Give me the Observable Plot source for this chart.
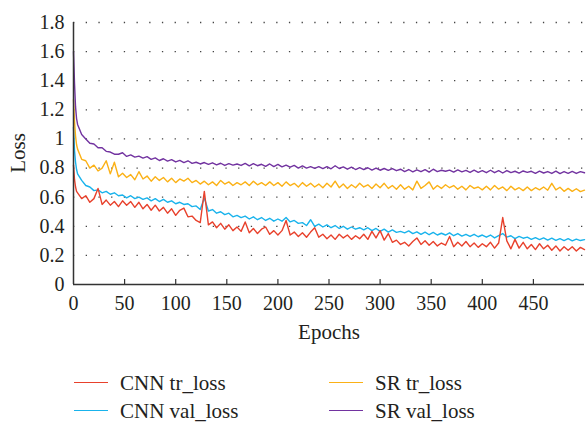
<!DOCTYPE html>
<html>
<head>
<meta charset="utf-8">
<script src="https://cdn.jsdelivr.net/npm/d3@7"></script>
<script src="https://cdn.jsdelivr.net/npm/@observablehq/plot@0.6"></script>
<style>
  html, body { margin: 0; padding: 0; background: #fff; }
  #wrap { position: relative; width: 586px; height: 422px; font-family: "Liberation Serif", "DejaVu Serif", serif; color: #231f20; }
  .sw { position: absolute; height: 0; border-top: 1.4px solid; width: 34px; }
  .lt { position: absolute; font-size: 21px; line-height: 22px; white-space: nowrap; }
  #ylab { position: absolute; left: 18px; top: 153px; font-size: 21px; line-height: 22px; white-space: nowrap;
          transform: translate(-50%, -50%) rotate(-90deg); }
</style>
</head>
<body>
<div id="wrap"></div>
<script>
// ---- data ----
const epochs = [
  0, 1, 2, 3,
  4, 8, 12, 16, 20, 24, 28, 32, 36, 40,
  44, 48, 52, 56, 60, 64, 68, 72, 76, 80,
  84, 88, 92, 96, 100, 104, 108, 112, 116, 120,
  124, 128, 132, 136, 140, 144, 148, 152, 156, 160,
  164, 168, 172, 176, 180, 184, 188, 192, 196, 200,
  204, 208, 212, 216, 220, 224, 228, 232, 236, 240,
  244, 248, 252, 256, 260, 264, 268, 272, 276, 280,
  284, 288, 292, 296, 300, 304, 308, 312, 316, 320,
  324, 328, 332, 336, 340, 344, 348, 352, 356, 360,
  364, 368, 372, 376, 380, 384, 388, 392, 396, 400,
  404, 408, 412, 416, 420, 424, 428, 432, 436, 440,
  444, 448, 452, 456, 460, 464, 468, 472, 476, 480,
  484, 488, 492, 496, 500
];
const cnnTrLoss = [
  0.82, 0.72, 0.67, 0.64,
  0.63, 0.59, 0.61, 0.565, 0.59, 0.66, 0.55, 0.58, 0.545, 0.57,
  0.535, 0.575, 0.545, 0.57, 0.53, 0.565, 0.52, 0.55, 0.51, 0.545,
  0.505, 0.53, 0.49, 0.52, 0.475, 0.51, 0.525, 0.465, 0.47, 0.44,
  0.425, 0.64, 0.41, 0.43, 0.39, 0.42, 0.38, 0.41, 0.37, 0.395,
  0.365, 0.43, 0.355, 0.385, 0.35, 0.38, 0.395, 0.345, 0.37, 0.34,
  0.37, 0.44, 0.34, 0.36, 0.33, 0.355, 0.325, 0.36, 0.39, 0.325,
  0.345, 0.315, 0.34, 0.31, 0.345, 0.32, 0.34, 0.31, 0.335, 0.315,
  0.345, 0.31, 0.365, 0.32, 0.37, 0.305, 0.35, 0.29, 0.305, 0.275,
  0.29, 0.265, 0.295, 0.32, 0.275, 0.30, 0.27, 0.295, 0.265, 0.285,
  0.27, 0.33, 0.26, 0.29, 0.265, 0.295, 0.26, 0.285, 0.255, 0.28,
  0.26, 0.29, 0.25, 0.285, 0.46, 0.30, 0.245, 0.31, 0.25, 0.29,
  0.245, 0.275, 0.24, 0.28, 0.245, 0.27, 0.235, 0.265, 0.23, 0.26,
  0.235, 0.26, 0.23, 0.255, 0.24
];
const cnnValLoss = [
  1.08, 0.92, 0.84, 0.79,
  0.76, 0.715, 0.68, 0.67, 0.645, 0.65, 0.63, 0.64, 0.62, 0.63,
  0.61, 0.615, 0.595, 0.61, 0.59, 0.60, 0.585, 0.595, 0.575, 0.59,
  0.57, 0.585, 0.565, 0.575, 0.555, 0.565, 0.55, 0.555, 0.535, 0.54,
  0.515, 0.595, 0.505, 0.515, 0.49, 0.50, 0.48, 0.49, 0.465, 0.475,
  0.46, 0.47, 0.45, 0.465, 0.445, 0.46, 0.44, 0.455, 0.435, 0.45,
  0.435, 0.46, 0.43, 0.44, 0.42, 0.425, 0.405, 0.445, 0.40, 0.415,
  0.395, 0.41, 0.39, 0.405, 0.385, 0.40, 0.38, 0.395, 0.38, 0.39,
  0.375, 0.39, 0.37, 0.385, 0.365, 0.38, 0.36, 0.375, 0.358, 0.365,
  0.355, 0.368, 0.35, 0.362, 0.345, 0.36, 0.342, 0.358, 0.34, 0.352,
  0.34, 0.355, 0.335, 0.35, 0.333, 0.345, 0.33, 0.345, 0.328, 0.34,
  0.325, 0.34, 0.32, 0.335, 0.35, 0.325, 0.335, 0.315, 0.33, 0.318,
  0.325, 0.31, 0.322, 0.308, 0.32, 0.305, 0.318, 0.303, 0.315, 0.302,
  0.315, 0.30, 0.312, 0.302, 0.308
];
const srTrLoss = [
  1.27, 1.12, 1.02, 0.96,
  0.93, 0.86, 0.85, 0.80, 0.82, 0.78, 0.80, 0.85, 0.76, 0.84,
  0.74, 0.765, 0.735, 0.755, 0.72, 0.775, 0.725, 0.745, 0.71, 0.74,
  0.715, 0.735, 0.705, 0.73, 0.70, 0.725, 0.71, 0.73, 0.70, 0.715,
  0.69, 0.71, 0.685, 0.705, 0.68, 0.715, 0.69, 0.705, 0.68, 0.70,
  0.685, 0.705, 0.68, 0.71, 0.685, 0.70, 0.68, 0.705, 0.68, 0.70,
  0.675, 0.705, 0.68, 0.695, 0.67, 0.70, 0.675, 0.695, 0.67, 0.69,
  0.665, 0.695, 0.67, 0.71, 0.665, 0.69, 0.66, 0.685, 0.665, 0.695,
  0.67, 0.685, 0.66, 0.69, 0.665, 0.695, 0.66, 0.68, 0.655, 0.685,
  0.655, 0.675, 0.65, 0.71, 0.66, 0.68, 0.705, 0.655, 0.68, 0.66,
  0.685, 0.665, 0.68, 0.655, 0.675, 0.65, 0.68, 0.66, 0.67, 0.65,
  0.675, 0.65, 0.68, 0.655, 0.67, 0.645, 0.675, 0.65, 0.665, 0.645,
  0.67, 0.645, 0.665, 0.65, 0.67, 0.648, 0.695, 0.65, 0.668, 0.64,
  0.66, 0.64, 0.658, 0.638, 0.648
];
const srValLoss = [
  1.60, 1.38, 1.22, 1.14,
  1.10, 1.03, 1.00, 0.97, 0.965, 0.94, 0.94, 0.915, 0.91, 0.895,
  0.895, 0.905, 0.88, 0.89, 0.875, 0.882, 0.868, 0.878, 0.86, 0.87,
  0.852, 0.864, 0.848, 0.858, 0.842, 0.853, 0.838, 0.85, 0.832, 0.84,
  0.828, 0.838, 0.825, 0.836, 0.822, 0.833, 0.818, 0.83, 0.82, 0.828,
  0.818, 0.832, 0.815, 0.83, 0.816, 0.826, 0.812, 0.828, 0.81, 0.825,
  0.808, 0.82, 0.806, 0.818, 0.80, 0.815, 0.80, 0.81, 0.798, 0.81,
  0.796, 0.81, 0.795, 0.816, 0.797, 0.808, 0.792, 0.806, 0.79, 0.803,
  0.79, 0.802, 0.786, 0.80, 0.785, 0.797, 0.784, 0.796, 0.782, 0.792,
  0.776, 0.79, 0.774, 0.788, 0.775, 0.789, 0.772, 0.792, 0.776, 0.785,
  0.778, 0.786, 0.772, 0.787, 0.774, 0.784, 0.77, 0.785, 0.771, 0.782,
  0.768, 0.785, 0.768, 0.782, 0.766, 0.783, 0.769, 0.778, 0.765, 0.78,
  0.77, 0.778, 0.764, 0.779, 0.766, 0.776, 0.763, 0.779, 0.762, 0.776,
  0.764, 0.777, 0.763, 0.775, 0.768
];
const seriesNames = ["CNN tr_loss", "CNN val_loss", "SR tr_loss", "SR val_loss"];
const xTicks = [0, 50, 100, 150, 200, 250, 300, 350, 400, 450];
const yTicks = [0, 0.2, 0.4, 0.6, 0.8, 1, 1.2, 1.4, 1.6, 1.8];
const xLabel = "Epochs";
const yLabel = "Loss";

// ---- styles ----
const colors = {
  "CNN tr_loss": "#e8412c",
  "CNN val_loss": "#19b3ec",
  "SR tr_loss": "#fbb116",
  "SR val_loss": "#7233a0"
};
const valuesBySeries = {
  "CNN tr_loss": cnnTrLoss,
  "CNN val_loss": cnnValLoss,
  "SR tr_loss": srTrLoss,
  "SR val_loss": srValLoss
};
const n = Math.min(epochs.length, cnnTrLoss.length, cnnValLoss.length, srTrLoss.length, srValLoss.length);
function rows(name) {
  const v = valuesBySeries[name];
  const out = [];
  for (let i = 0; i < n; i++) out.push({epoch: epochs[i], loss: v[i], series: name});
  return out;
}
const drawOrder = ["CNN val_loss", "CNN tr_loss", "SR tr_loss", "SR val_loss"];
const font = '"Liberation Serif", "DejaVu Serif", serif';

const chart = Plot.plot({
  width: 586,
  height: 345,
  marginLeft: 73,
  marginRight: 2,
  marginTop: 22,
  marginBottom: 61,
  style: {fontFamily: font, fontSize: "20px", color: "#231f20", background: "#fff"},
  x: {domain: [0, 500]},
  y: {domain: [0, 1.8]},
  marks: [
    Plot.ruleY(yTicks.filter(d => d > 0), {stroke: "#444", strokeWidth: 1.3, strokeDasharray: "1.3,11.4"}),
    ...drawOrder.map(name => Plot.line(rows(name), {x: "epoch", y: "loss", stroke: colors[name], strokeWidth: 1.4})),
    Plot.ruleX(xTicks.filter(d => d > 0), {y1: 0, y2: 0.035, stroke: "#333", strokeWidth: 1.2}),
    Plot.ruleX([0], {stroke: "#333", strokeWidth: 1.5}),
    Plot.ruleY([0], {stroke: "#333", strokeWidth: 1.5}),
    Plot.axisY({ticks: yTicks, tickSize: 0, tickPadding: 9, fontSize: 20, tickFormat: d => String(d),
      label: null}),
    Plot.axisX({ticks: xTicks, tickSize: 0, tickPadding: 11, fontSize: 20, tickFormat: d => String(d),
      label: null}),
    Plot.text([xLabel], {frameAnchor: "bottom", dy: 54, fontSize: 21, text: d => d})
  ]
});
const wrap = document.getElementById("wrap");
wrap.appendChild(chart);

// y-axis title
const yl = document.createElement("div");
yl.id = "ylab";
yl.textContent = yLabel;
wrap.appendChild(yl);

// ---- legend (HTML) ----
const legendPos = {
  "CNN tr_loss": [74, 120, 383],
  "CNN val_loss": [74, 120, 411],
  "SR tr_loss": [329, 375, 383],
  "SR val_loss": [329, 375, 411]
};
seriesNames.forEach(name => {
  const [sx, tx, cy] = legendPos[name];
  const sw = document.createElement("div");
  sw.className = "sw";
  sw.style.left = sx + "px";
  sw.style.top = (cy - 0.7) + "px";
  sw.style.borderTopColor = colors[name];
  wrap.appendChild(sw);
  const t = document.createElement("div");
  t.className = "lt";
  t.style.left = tx + "px";
  t.style.top = (cy - 11) + "px";
  t.textContent = name;
  wrap.appendChild(t);
});
</script>
</body>
</html>
